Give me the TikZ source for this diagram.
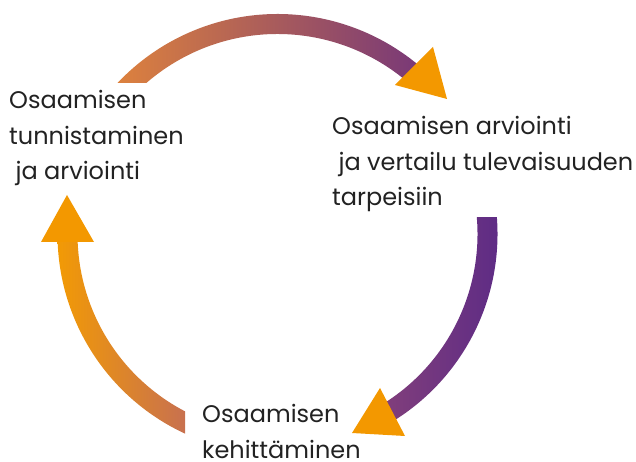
\documentclass[tikz,border=0pt]{standalone}
\usepackage{fontspec}
\setmainfont{Poppins}
\definecolor{arrorange}{HTML}{F39800}
\definecolor{txtgray}{HTML}{222222}
\definecolor{toplo}{HTML}{E3863A}
\definecolor{tophi}{HTML}{783878}
\definecolor{rightlo}{HTML}{823F7B}
\definecolor{righthi}{HTML}{5B2A86}
\definecolor{leftlo}{HTML}{F29A05}
\definecolor{lefthi}{HTML}{C0695D}
\begin{document}
\begin{tikzpicture}[x=1pt,y=1pt,
lbl/.style = {anchor=base west,inner sep=0pt,align=left,text=txtgray,
  font=\fontsize{24}{35.5}\selectfont},
head/.style = {fill=arrorange}
]
  \useasboundingbox (0,0) rectangle (636,462);
  \coordinate (c) at (277.5,228);

  % ring pieces
  \begin{scope}
    \clip (0,379) rectangle (636,462);
    \shade[shift={(c)},left color=toplo,right color=tophi]
      (145:220) arc[start angle=145,end angle=49,radius=220]
      -- (49:200) arc[start angle=49,end angle=145,radius=200] -- cycle;
  \end{scope}
  \begin{scope}
    \clip (0,0) rectangle (636,244);
    \shade[shift={(c)},left color=rightlo,right color=righthi]
      (10:220) arc[start angle=10,end angle=-59,radius=220]
      -- (-59:200) arc[start angle=-59,end angle=10,radius=200] -- cycle;
  \end{scope}
  \begin{scope}
    \clip (0,0) rectangle (185,462);
    \shade[shift={(c)},left color=leftlo,right color=lefthi]
      (250:220) arc[start angle=250,end angle=180,radius=220]
      -- (180:200) arc[start angle=180,end angle=250,radius=200] -- cycle;
  \end{scope}

  % arrow heads
  \fill[head] (433,415) -- (447,363) -- (395,377) -- cycle;
  \fill[head] (380,74) -- (352,29) -- (405,26) -- cycle;
  \fill[head] (41,220) -- (67,267) -- (94,220) -- cycle;

  \node[lbl] (tunn) at (9,282) {Osaamisen\\tunnistaminen\\\ ja arviointi};
  \node[lbl] (arvi) at (332,256) {Osaamisen arviointi\\\ ja vertailu tulevaisuuden\\tarpeisiin};
  \node[lbl] (kehi) at (202,3.5) {Osaamisen\\kehittäminen};
\end{tikzpicture}
\end{document}
